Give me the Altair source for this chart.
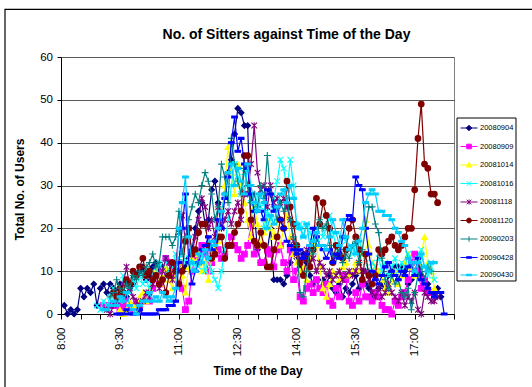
import altair as alt
import pandas as pd

FONT = "Liberation Sans"

SERIES = ["20080904", "20080909", "20081014", "20081016", "20081118",
          "20081120", "20090203", "20090428", "20090430"]
COLORS = ["#000080", "#FF00FF", "#FFFF00", "#00FFFF", "#800080",
          "#800000", "#008080", "#0000FF", "#00CCFF"]
# time of the first reading of each day; readings are logged every 5 minutes
STARTS = ["8:05", "9:05", "9:30", "8:55", "9:10", "9:20", "9:15", "9:25", "9:05"]
INTERVAL_MIN = 5

V_20080904 = [
    2, 0, 1, 0, 1, 6, 4, 6, 5, 7, 2,
    6, 7, 5, 7, 6, 5, 7, 5, 4, 6, 7, 9,
    10, 11, 8, 9, 11, 12, 10, 11, 9, 10, 12, 11,
    12, 10, 11, 13, 15, 20, 24, 26, 21, 22, 29, 31,
    26, 22, 28, 33, 36, 42, 48, 47, 44, 44, 20, 24,
    15, 12, 12, 15, 20, 8, 8, 8, 7, 9, 12, 15,
    13, 11, 14, 12, 9, 7, 8, 6, 8, 7, 9, 6,
    5, 7, 4, 6, 5, 7, 9, 6, 10, 7, 6, 4,
    5, 6, 7, 6, 9, 10, 11, 11, 11, 10, 7, 8,
    10, 12, 9, 8, 7, 5, 5, 6, 4,
]
V_20080909 = [
    2, 2, 2, 2, 2, 1, 2, 3, 2, 1, 3,
    2, 3, 4, 3, 6, 9, 7, 10, 13, 12, 9, 11,
    12, 6, 1, 3, 10, 13, 12, 16, 14, 10, 12, 14,
    15, 13, 14, 16, 18, 16, 15, 13, 14, 16, 21, 14,
    16, 12, 12, 15, 14, 11, 15, 16, 12, 10, 15, 8,
    10, 4, 3, 6, 7, 5, 8, 6, 5, 7, 3, 2,
    6, 4, 9, 8, 3, 2, 5, 3, 7, 4, 4, 3,
    5, 4, 2, 1, 1, 0, 3, 2, 4, 5, 8, 12,
    14, 10, 6, 8, 5,
]
V_20081014 = [
    1, 0, 1, 3, 2, 1,
    4, 5, 3, 6, 8, 10, 7, 9, 11, 8, 6, 10,
    12, 9, 5, 11, 13, 12, 14, 10, 12, 8, 13, 15,
    17, 22, 30, 39, 33, 28, 35, 30, 26, 22, 18, 25,
    21, 16, 19, 22, 20, 18, 22, 16, 20, 23, 18, 14,
    12, 10, 11, 8, 13, 17, 16, 11, 6, 4, 7, 10,
    9, 8, 11, 12, 9, 10, 12, 10, 14, 22, 16, 12,
    11, 10, 8, 6, 5, 8, 10, 7, 9, 12, 14, 11,
    9, 12, 14, 18, 12, 10, 6,
]
V_20081016 = [
    2,
    1, 3, 2, 4, 6, 5, 3, 9, 7, 5, 8, 6,
    9, 7, 8, 6, 10, 9, 12, 10, 13, 9, 11, 14,
    13, 15, 12, 13, 10, 12, 11, 14, 10, 13, 10, 8,
    6, 10, 15, 22, 30, 35, 32, 28, 33, 30, 27, 24,
    28, 25, 20, 24, 22, 27, 31, 36, 34, 29, 36, 30,
    20, 21, 18, 21, 19, 17, 20, 22, 18, 20, 23, 19,
    16, 14, 18, 17, 15, 14, 16, 18, 14, 12, 10, 12,
    11, 13, 10, 12, 9, 11, 13, 10, 12, 11, 14, 12,
    10, 13, 15, 11, 9, 12, 8,
]
V_20081118 = [
    1, 0, 2, 3, 5, 7, 11, 6, 4, 3,
    1, 3, 5, 4, 7, 9, 6, 10, 13, 12, 8, 11,
    19, 23, 17, 20, 14, 18, 22, 27, 25, 20, 22, 18,
    25, 20, 22, 24, 21, 24, 26, 22, 28, 28, 35, 44,
    33, 29, 30, 25, 30, 26, 27, 26, 27, 25, 22, 17,
    14, 12, 13, 15, 12, 13, 10, 12, 11, 9, 10, 8,
    9, 10, 8, 9, 10, 9, 10, 12, 10, 10, 8, 5,
    4, 6, 4, 5, 7, 5, 4, 3, 5, 2, 4, 3,
    5, 1, 0, 5, 4, 3, 3, 4,
]
V_20081120 = [
    5, 4, 6, 5, 8, 7, 10, 9,
    11, 13, 9, 10, 8, 9, 7, 8, 5, 9, 12, 10,
    7, 10, 17, 20, 14, 15, 19, 21, 21, 16, 13, 14,
    18, 18, 13, 16, 16, 19, 21, 24, 37, 37, 22, 17,
    16, 19, 16, 11, 11, 15, 18, 22, 20, 31, 25, 21,
    16, 12, 9, 13, 11, 15, 27, 21, 26, 23, 20, 12,
    16, 14, 13, 15, 20, 22, 18, 15, 8, 14, 9, 7,
    9, 15, 14, 15, 17, 18, 16, 15, 16, 18, 20, 20,
    29, 41, 49, 35, 34, 28, 28, 26,
]
V_20090203 = [
    4, 5, 8, 6, 5, 7, 6, 9, 8,
    10, 9, 11, 12, 14, 11, 12, 18, 18, 18, 16, 18,
    24, 14, 18, 22, 25, 28, 26, 30, 33, 31, 28, 22,
    25, 35, 32, 26, 41, 35, 31, 28, 34, 30, 26, 28,
    25, 30, 27, 37, 28, 25, 22, 26, 24, 27, 22, 18,
    16, 5, 4, 10, 15, 14, 17, 22, 20, 21, 16, 14,
    13, 15, 12, 14, 13, 16, 17, 12, 15, 20, 25, 25,
    21, 19, 13, 8, 6, 9, 7, 8, 5, 4, 6, 1,
    5, 9, 11, 8, 11, 10,
]
V_20090428 = [
    0, 0, 0, 1, 0, 0, 0,
    1, 0, 0, 0, 0, 0, 1, 1, 1, 2, 2, 3,
    12, 20, 28, 12, 7, 10, 12, 15, 16, 18, 15, 17,
    22, 20, 27, 32, 40, 46, 38, 41, 35, 34, 28, 24,
    24, 24, 22, 29, 28, 24, 25, 22, 20, 17, 16, 15,
    14, 15, 13, 14, 16, 20, 18, 16, 15, 13, 15, 12,
    14, 13, 18, 22, 23, 22, 32, 30, 29, 20, 14, 10,
    8, 7, 9, 11, 12, 10, 9, 8, 10, 9, 11, 12,
    9, 13, 8, 7, 6, 5, 4, 5, 5, 0,
]
V_20090430 = [
    1, 1, 2, 3, 2, 4, 3, 5, 2, 1, 0,
    2, 3, 3, 5, 3, 4, 3, 5, 4, 3, 4, 6,
    20, 26, 32, 18, 12, 10, 14, 12, 15, 13, 17, 16,
    20, 24, 28, 33, 35, 30, 34, 31, 28, 35, 30, 26,
    24, 28, 26, 20, 23, 21, 25, 28, 29, 26, 30, 27,
    21, 20, 18, 21, 16, 17, 19, 16, 16, 15, 18, 22,
    19, 16, 22, 18, 15, 16, 14, 17, 20, 26, 28, 29,
    28, 24, 24, 23, 23, 22, 20, 19, 17, 16, 13, 12,
    10, 12, 14, 11, 10, 12, 12,
]
VALUES = [V_20080904, V_20080909, V_20081014, V_20081016, V_20081118,
          V_20081120, V_20090203, V_20090428, V_20090430]

# plot markers (custom paths are drawn in a [-1, 1] box)
MARKERS = [
    "diamond",
    "square",
    "triangle-up",
    "M-1,-1L1,1M-1,1L1,-1",
    "M-1,-1L1,1M-1,1L1,-1M0,-1.2L0,1.2",
    "circle",
    "M-1.2,0L1.2,0M0,-1.2L0,1.2",
    "M-1,-0.35L1,-0.35L1,0.35L-1,0.35Z",
    "M-1,-0.35L1,-0.35L1,0.35L-1,0.35Z",
]
# legend glyphs: a short line with the marker in the middle
LEGEND_GLYPHS = [
    "M-1,0L1,0M0,-0.32L0.32,0L0,0.32L-0.32,0Z",
    "M-1,0L1,0M-0.27,-0.27L0.27,-0.27L0.27,0.27L-0.27,0.27Z",
    "M-1,0L1,0M0,-0.32L0.3,0.24L-0.3,0.24Z",
    "M-1,0L1,0M-0.27,-0.27L0.27,0.27M-0.27,0.27L0.27,-0.27",
    "M-1,0L1,0M-0.27,-0.27L0.27,0.27M-0.27,0.27L0.27,-0.27M0,-0.3L0,0.3",
    "M-1,0L1,0M0.28,0A0.28,0.28,0,1,1,-0.28,0A0.28,0.28,0,1,1,0.28,0Z",
    "M-1,0L1,0M0,-0.32L0,0.32",
    "M-1,0L1,0M-0.3,-0.09L0.3,-0.09L0.3,0.09L-0.3,0.09Z",
    "M-1,0L1,0M-0.3,-0.09L0.3,-0.09L0.3,0.09L-0.3,0.09Z",
]


def clock_to_minutes(text):
    h, m = text.split(":")
    return int(h) * 60 + int(m)


rows = []
for name, start, vals in zip(SERIES, STARTS, VALUES):
    t0 = clock_to_minutes(start)
    for i, v in enumerate(vals):
        rows.append({"series": name, "minute": t0 + i * INTERVAL_MIN, "users": v})
df = pd.DataFrame(rows)

x_enc = alt.X(
    "minute:Q",
    scale=alt.Scale(domain=[480, 1080], nice=False, zero=False),
    axis=alt.Axis(
        title="Time of the Day",
        values=list(range(480, 1081, 30)),
        labelExpr="(datum.value - 480) % 90 == 0 && datum.value < 1080 ? "
                  "floor(datum.value / 60) + ':' + (datum.value % 60 == 0 ? '00' : '30') : ''",
        labelAngle=270, labelAlign="right", labelBaseline="middle",
        labelFontSize=11.5, labelPadding=8, labelFlush=False, labelOverlap=False,
        tickSize=5, grid=False,
        titleFontSize=12, titleFontWeight="bold", titleY=60.5,
        titleBaseline="alphabetic",
    ),
)
y_enc = alt.Y(
    "users:Q",
    scale=alt.Scale(domain=[0, 60], nice=False),
    axis=alt.Axis(
        title="Total No. of Users",
        values=list(range(0, 61, 10)),
        labelFontSize=11.5, labelPadding=4.5, labelFlush=False,
        tickSize=4, grid=True, gridColor="#5a5a5a", gridWidth=1,
        titleFontSize=12, titleFontWeight="bold", titleAngle=270,
        titleX=-37.5, titleY=132, titleAlign="center", titleBaseline="alphabetic",
    ),
)
color_scale = alt.Scale(domain=SERIES, range=COLORS)
marker_scale = alt.Scale(domain=SERIES, range=MARKERS)

base = alt.Chart(df)
layers = []
for name in SERIES:
    one = base.transform_filter(alt.datum.series == name)
    layers.append(
        one.mark_line(strokeWidth=1.2).encode(
            x=x_enc, y=y_enc,
            stroke=alt.Stroke("series:N", scale=color_scale, legend=None),
        )
    )
    layers.append(
        one.mark_point(filled=True, size=32, opacity=1, strokeWidth=1.1).encode(
            x=x_enc, y=y_enc,
            stroke=alt.Stroke("series:N", scale=color_scale, legend=None),
            fill=alt.Fill("series:N", scale=color_scale, legend=None),
            shape=alt.Shape("series:N", scale=marker_scale, legend=None),
        )
    )

# legend entries: line-with-marker glyphs, one per day
legend = alt.Legend(
    title=None,
    orient="none",
    legendX=395.5,
    legendY=60.5,
    padding=1.5,
    symbolOffset=2,
    symbolSize=289,
    symbolStrokeWidth=1,
    symbolOpacity=1,
    labelFont=FONT,
    labelFontSize=7.5,
    labelColor="black",
    labelOffset=2,
    rowPadding=4.5,
    strokeColor="black",
    fillColor="white",
)
key_df = pd.DataFrame({"key": SERIES})
legend_layer = alt.Chart(key_df).mark_point(filled=True, opacity=0).encode(
    x=alt.value(0),
    y=alt.value(0),
    stroke=alt.Stroke("key:N", scale=color_scale, legend=legend),
    fill=alt.Fill("key:N", scale=color_scale, legend=legend),
    shape=alt.Shape("key:N", scale=alt.Scale(domain=SERIES, range=LEGEND_GLYPHS), legend=legend),
)

# outer chart-area frame
frame = alt.Chart(alt.Data(values=[{}])).mark_rect(
    fill="transparent", stroke="black", strokeWidth=1.2, clip=False
).encode(x=alt.value(-56), x2=alt.value(700), y=alt.value(-47.7), y2=alt.value(600))

chart = (
    alt.layer(frame, *layers, legend_layer)
    .resolve_scale(shape="independent", stroke="independent", fill="independent")
    .properties(
        width=393,
        height=257,
        title=alt.TitleParams(
            "No. of Sitters against Time of the Day",
            font=FONT, fontSize=14, fontWeight="bold", color="black",
            anchor="middle", baseline="alphabetic", dx=29, dy=44.3, offset=0,
        ),
        autosize=alt.AutoSizeParams(type="none"),
        padding={"left": 61, "top": 57, "right": 78, "bottom": 73},
        background="white",
    )
    .configure_view(stroke="#808080", strokeWidth=1)
    .configure_axis(
        domainColor="black", tickColor="black", labelColor="black", titleColor="black",
        labelFont=FONT, titleFont=FONT, domainWidth=1, tickWidth=1,
    )
)

chart.save("out.html", embed_options={"renderer": "svg", "actions": False})
